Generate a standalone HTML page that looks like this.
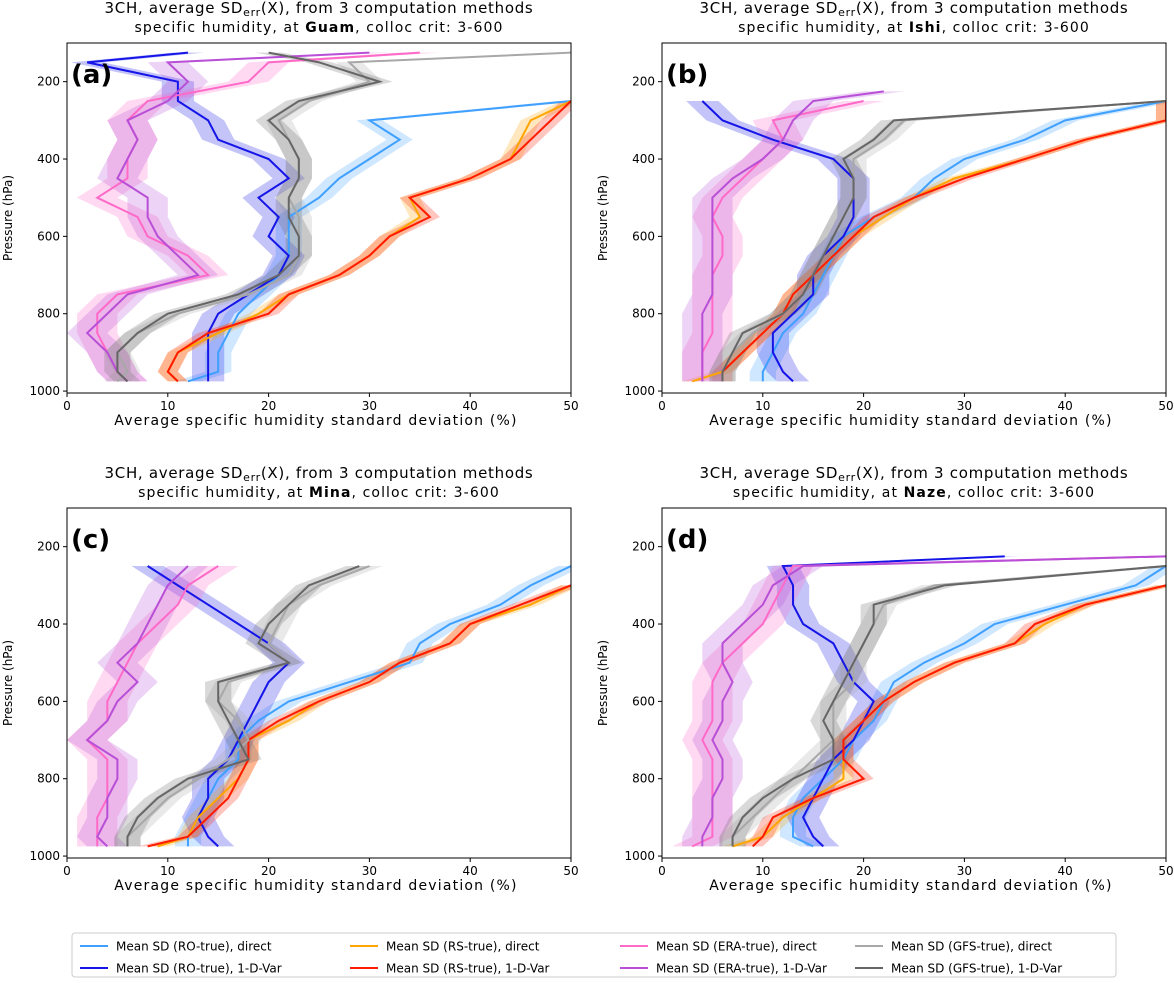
<!DOCTYPE html>
<html><head><meta charset="utf-8">
<style>
body{margin:0;background:#fff;}
svg{display:block;font-family:"DejaVu Sans","Liberation Sans",sans-serif;}
</style></head>
<body>
<svg id="fig" width="1174" height="983" viewBox="0 0 1174 983"></svg>
<script>
const seriesNames=["Mean SD (RO-true), direct","Mean SD (RO-true), 1-D-Var","Mean SD (RS-true), direct","Mean SD (RS-true), 1-D-Var","Mean SD (ERA-true), direct","Mean SD (ERA-true), 1-D-Var","Mean SD (GFS-true), direct","Mean SD (GFS-true), 1-D-Var"];
const seriesColors=["#3fa0ff","#1515e8","#ffa500","#ff1a00","#ff69c8","#b84fd6","#a8a8a8","#666666"];
const spreads=[1.3,1.6,1.0,1.0,2,2,1.3,1.3];
const xTicks=[0,10,20,30,40,50];
const yTicks=[200,400,600,800,1000];
const stations=["Guam","Ishi","Mina","Naze"];
const panelLetters=["(a)","(b)","(c)","(d)"];
const levelsA=[125,150,200,250,300,350,400,450,500,550,600,650,700,750,800,850,900,950,975];
const levels=[225,250,300,350,400,450,500,550,600,650,700,750,800,850,900,950,975];
const N=null;
const dataA=[
[N,N,N,50,30,33,30,27,25,22,22,22,21,19,17,16,15,15,12],
[12,2,11,11,14,15,20,22,19,21,20,22,21,18,15,14,14,14,14],
[N,N,N,50,46,45,44,40,34,35,32,30,27,22,19,15,11,10,11],
[N,N,N,50,48,46,44,40,34,36,32,30,27,22,20,14,11,10,11],
[35,20,18,8,6,7,6,6,3,7,8,12,14,5,3,3,4,5,6],
[30,10,12,10,6,7,6,5,8,8,9,11,13,6,4,2,4,5,6],
[50,28,30,24,21,22,23,23,22,23,23,23,22,18,11,7,5,6,5],
[20,25,31,23,20,22,23,23,22,22,23,23,21,17,10,7,5,5,6]];
const dataB=[
[N,50,40,36,30,27,25,21,18,17,16,15,14,12,11,10,10],
[N,4,6,11,17,19,19,19,18,16,15,15,13,11,11,12,13],
[N,50,50,42,36,29,25,22,19,17,15,13,12,10,8,6,3],
[N,50,50,42,36,30,25,21,19,17,15,13,12,10,8,6,6],
[N,20,11,12,10,8,6,5,6,6,5,5,5,5,4,4,4],
[22,15,13,12,10,7,5,5,5,5,5,5,4,4,4,4,4],
[N,50,24,22,19,19,19,18,17,16,15,14,12,9,7,6,6],
[N,50,23,21,18,19,19,18,17,16,15,14,12,8,7,6,6]];
const dataC=[
[N,50,46,43,38,35,34,28,22,19,17,17,15,14,13,12,12],
[N,8,11,14,17,20,22,20,19,18,17,16,14,14,13,14,15],
[N,N,50,46,40,38,33,30,25,22,18,18,17,15,13,12,9],
[N,N,50,45,40,38,33,30,25,21,18,18,17,16,14,12,8],
[N,15,12,11,9,7,6,5,4,4,2,4,4,4,3,3,3],
[N,12,10,9,8,7,5,7,5,4,2,5,5,4,4,3,4],
[N,30,25,22,21,20,22,16,15,17,18,16,13,10,8,6,6],
[N,29,24,22,20,19,22,15,15,16,17,18,12,9,7,6,6]];
const dataD=[
[N,50,47,40,33,30,26,23,22,21,19,18,16,14,13,13,15],
[34,12,13,13,14,17,18,19,21,20,19,17,16,15,14,15,16],
[N,N,50,42,38,35,29,25,22,20,18,18,18,15,12,10,7],
[N,N,50,42,37,35,29,25,22,20,18,18,20,15,11,10,9],
[50,13,12,11,10,8,6,5,5,5,4,5,5,5,5,5,3],
[50,14,11,10,8,6,6,7,6,6,5,6,6,5,5,4,4],
[N,50,27,22,21,20,19,19,17,17,17,15,13,11,9,7,7],
[N,50,28,21,21,20,19,18,17,16,17,17,13,10,8,7,7]];
const panelData=[dataA,dataB,dataC,dataD];
const panelLevels=[levelsA,levels,levels,levels];

const NS="http://www.w3.org/2000/svg";
const svg=document.getElementById('fig');
function mk(tag,attrs,parent){const e=document.createElementNS(NS,tag);for(const k in attrs)e.setAttribute(k,attrs[k]);(parent||svg).appendChild(e);return e;}
const boxes=[{x:67,y:43},{x:662,y:43},{x:67,y:508},{x:662,y:508}];
const W=504,H=350,PMIN=100,PMAX=1005,XMAX=50;
boxes.forEach((b,pi)=>{
  const g=mk('g',{});
  
  
  const xs=v=>b.x+v/XMAX*W;
  const ys=p=>b.y+(p-PMIN)/(PMAX-PMIN)*H;
  const cp=mk('clipPath',{id:'cp'+pi},g);
  mk('rect',{x:b.x,y:b.y,width:W,height:H},cp);
  const plot=mk('g',{'clip-path':'url(#cp'+pi+')'},g);
  const lv=panelLevels[pi];
  panelData[pi].forEach((ser,si)=>{
    const pts=[];ser.forEach((v,i)=>{if(v!==null)pts.push([v,lv[i]]);});
    const up=pts.map(p=>xs(p[0]+spreads[si])+','+ys(p[1]));
    const lo=pts.slice().reverse().map(p=>xs(Math.max(0,p[0]-spreads[si]))+','+ys(p[1]));
    const band=mk('polygon',{points:up.concat(lo).join(' '),fill:seriesColors[si],'fill-opacity':0.25,stroke:'none'},plot);
    
    
  });
  panelData[pi].forEach((ser,si)=>{
    const pts=[];ser.forEach((v,i)=>{if(v!==null)pts.push(xs(v)+','+ys(lv[i]));});
    const l=mk('polyline',{points:pts.join(' '),fill:'none',stroke:seriesColors[si],'stroke-width':2},plot);
    
    
  });
  mk('rect',{x:b.x,y:b.y,width:W,height:H,fill:'none',stroke:'#000','stroke-width':1},g);
  xTicks.forEach(t=>{
    mk('line',{x1:xs(t),x2:xs(t),y1:b.y+H,y2:b.y+H+4,stroke:'#000'},g);
    const tx=mk('text',{x:xs(t),y:b.y+H+17,'text-anchor':'middle','font-size':12},g);tx.textContent=t;
  });
  yTicks.forEach(t=>{
    mk('line',{x1:b.x-4,x2:b.x,y1:ys(t),y2:ys(t),stroke:'#000'},g);
    const tx=mk('text',{x:b.x-7,y:ys(t)+4,'text-anchor':'end','font-size':12},g);tx.textContent=t;
  });
  const xl=mk('text',{x:b.x+W/2-3,y:b.y+H+32,'text-anchor':'middle','font-size':14,'letter-spacing':1.2},g);xl.textContent='Average specific humidity standard deviation (%)';
  
  const yl=mk('text',{x:0,y:0,'text-anchor':'middle','font-size':12,transform:`translate(${b.x-55},${b.y+H/2}) rotate(-90)`},g);yl.textContent='Pressure (hPa)';
  
  const t1=mk('text',{x:b.x+W/2,y:b.y-30,'text-anchor':'middle','font-size':15,'letter-spacing':0.7},g);
  t1.innerHTML='3CH, average SD<tspan font-size="11" dy="3">err</tspan><tspan dy="-3">(X), from 3 computation methods</tspan>';
  
  const t2=mk('text',{x:b.x+W/2,y:b.y-11,'text-anchor':'middle','font-size':14,'letter-spacing':1.1},g);
  t2.innerHTML='specific humidity, at <tspan font-weight="bold">'+stations[pi]+'</tspan>, colloc crit: 3-600';
  
  const pl=mk('text',{x:b.x+4,y:b.y+40,'font-size':26,'font-weight':'bold'},g);pl.textContent=panelLetters[pi];
  
});
const lg=mk('g',{});


mk('rect',{x:72,y:933,width:1044,height:44,rx:3,fill:'#fff',stroke:'#ccc'},lg);
const colX=[80,350,620,855];
seriesNames.forEach((n,i)=>{
  const cx=colX[Math.floor(i/2)],cy=i%2===0?946:968;
  const e=mk('g',{},lg);
  
  
  mk('line',{x1:cx,x2:cx+28,y1:cy,y2:cy,stroke:seriesColors[i],'stroke-width':2},e);
  const t=mk('text',{x:cx+36,y:cy+4.5,'font-size':12},e);t.textContent=n;
});
</script>
</body></html>
